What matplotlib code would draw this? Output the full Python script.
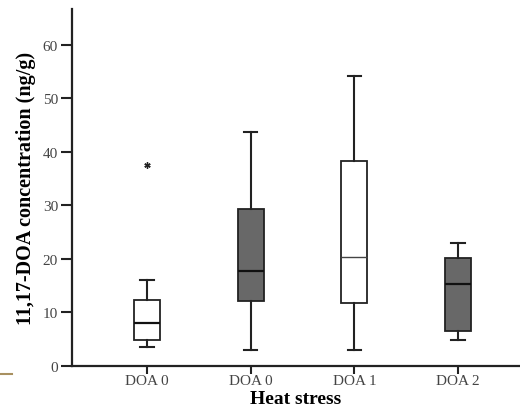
import matplotlib
matplotlib.use("Agg")
import matplotlib.pyplot as plt
from matplotlib.lines import Line2D

categories = ["DOA 0", "DOA 0", "DOA 1", "DOA 2"]
whislo = [3.6, 2.9, 2.9, 4.9]
q1 = [4.9, 12.1, 11.8, 6.5]
med = [8.1, 17.8, 20.4, 15.3]
q3 = [12.4, 29.3, 38.3, 20.2]
whishi = [16.1, 43.8, 54.1, 23.0]
fliers = [[37.6], [], [], []]
fill_colors = ["white", "#686868", "white", "#686868"]
yticks = [0, 10, 20, 30, 40, 50, 60]

plt.rcParams['font.family'] = ['Liberation Serif', 'DejaVu Serif']

fig = plt.figure(figsize=(5.2, 4.14), dpi=100)
ax = fig.add_axes([72/520, 1 - 367/414, 1 - 72/520, (367 - 10)/414])

stats = []
for i in range(len(categories)):
    stats.append(dict(whislo=whislo[i], q1=q1[i], med=med[i], q3=q3[i],
                      whishi=whishi[i], fliers=fliers[i], label=categories[i]))

positions = list(range(1, len(categories) + 1))
bp = ax.bxp(stats, positions=positions, widths=0.25, patch_artist=True,
            boxprops=dict(linewidth=1.3, edgecolor="#222222"),
            whiskerprops=dict(linewidth=1.5, color="#222222"),
            capprops=dict(linewidth=1.5, color="#222222"),
            medianprops=dict(linewidth=1.6, color="#111111"),
            flierprops=dict(marker=(6, 2, 0), markersize=4.5, markeredgewidth=1.0,
                            markeredgecolor="#222222", linestyle="none"),
            manage_ticks=False)
for patch, c in zip(bp['boxes'], fill_colors):
    patch.set_facecolor(c)
for cap in bp['caps']:
    x = cap.get_xdata()
    mid = (x[0] + x[1]) / 2
    cap.set_xdata([mid - 0.065, mid + 0.065])
bp['medians'][2].set_linewidth(1.0)
bp['medians'][2].set_color("#444444")

ax.set_xlim(0.279, 4.596)
ax.set_ylim(0, 66.7)
ax.set_xticks(positions)
ax.set_xticklabels(categories, fontsize=11, color="#444444")
ax.set_yticks(yticks)
ax.set_yticklabels([str(t) for t in yticks], fontsize=11, color="#444444")
ax.tick_params(axis='y', direction='out', length=8, width=1.5, pad=2, color="#222222")
ax.tick_params(axis='x', direction='out', length=6, width=1.5, pad=0, color="#222222")

for s in ['top', 'right']:
    ax.spines[s].set_visible(False)
for s in ['left', 'bottom']:
    ax.spines[s].set_linewidth(1.6)
    ax.spines[s].set_color("#222222")

ax.set_xlabel("Heat stress", fontsize=14, fontweight='bold', labelpad=2)
ax.set_ylabel("11,17-DOA concentration (ng/g)", fontsize=14.5, fontweight='bold', labelpad=5)

fig.add_artist(Line2D([0, 12/520], [1 - 375/414, 1 - 375/414], color="#a89060", linewidth=1.5))

fig.savefig("out.png", dpi=100)
